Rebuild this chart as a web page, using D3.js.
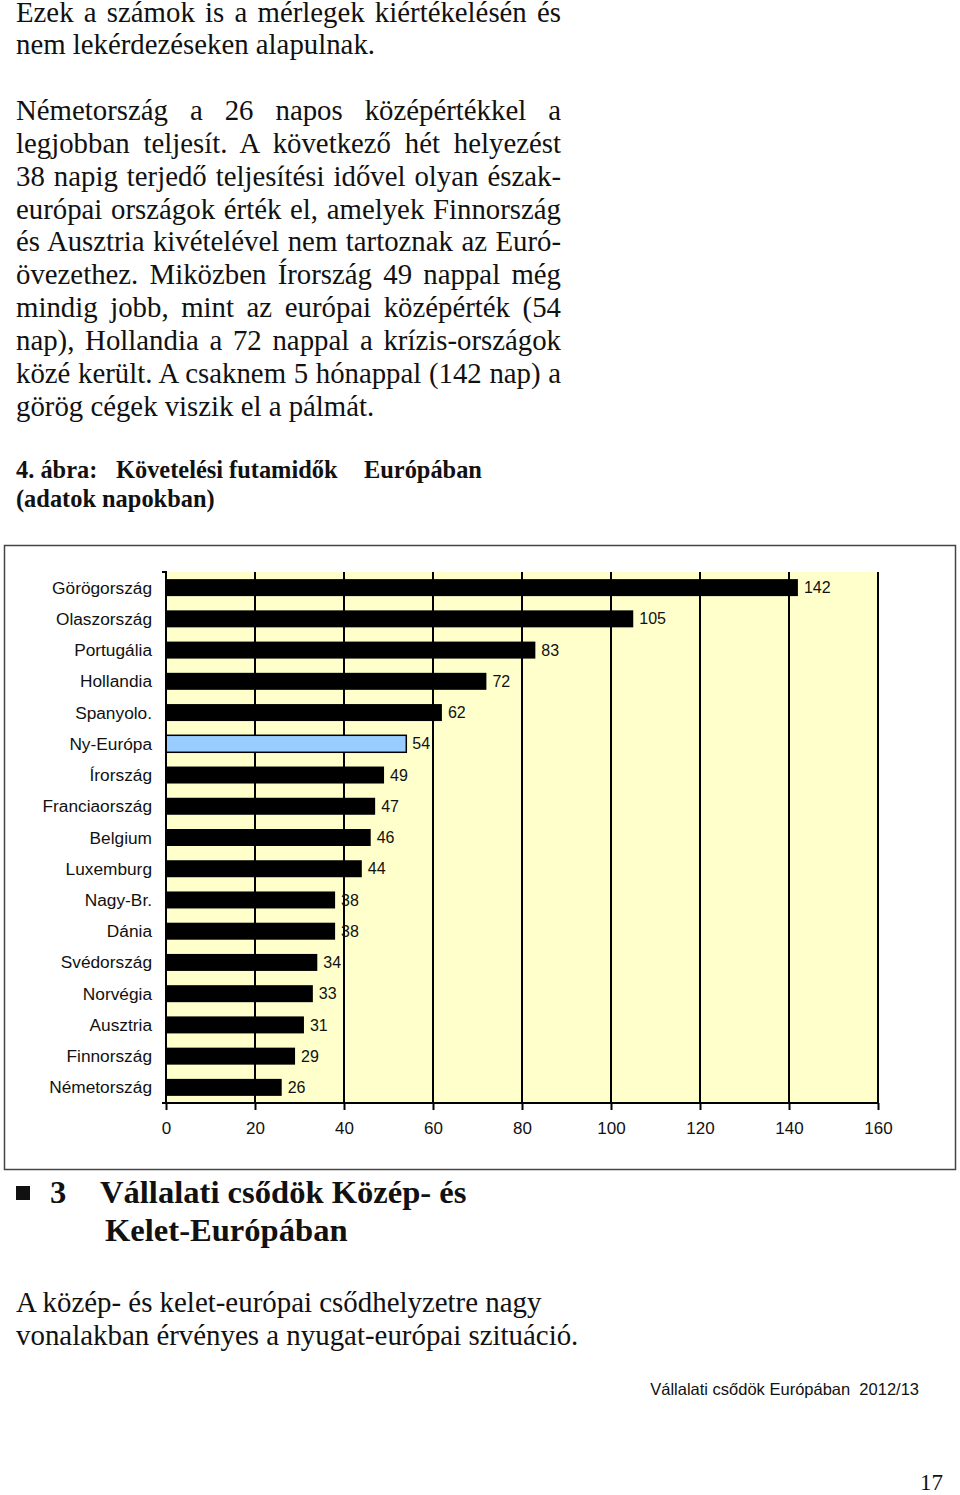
<!DOCTYPE html>
<html>
<head>
<meta charset="utf-8">
<script src="https://cdn.jsdelivr.net/npm/d3@7"></script>
<style>
  html, body { margin: 0; padding: 0; background: #fff; }
  body { width: 960px; height: 1495px; position: relative; overflow: hidden; }
  svg { position: absolute; left: 0; top: 0; }
</style>
</head>
<body>
<svg id="chart" width="960" height="1495"></svg>
<script>
// ---- data ----
const categories = ["Görögország","Olaszország","Portugália","Hollandia","Spanyolo.","Ny-Európa","Írország",
  "Franciaország","Belgium","Luxemburg","Nagy-Br.","Dánia","Svédország","Norvégia","Ausztria","Finnország","Németország"];
const values = [142,105,83,72,62,54,49,47,46,44,38,38,34,33,31,29,26];
const highlight = ["Ny-Európa"];
const xTicks = [0,20,40,60,80,100,120,140,160];

const proseLines = [
  ["Ezek a számok is a mérlegek kiértékelésén és", true],
  ["nem lekérdezéseken alapulnak.", false],
  ["", false],
  ["Németország a 26 napos középértékkel a", true],
  ["legjobban teljesít. A következő hét helyezést", true],
  ["38 napig terjedő teljesítési idővel olyan észak-", true],
  ["európai országok érték el, amelyek Finnország", true],
  ["és Ausztria kivételével nem tartoznak az Euró-", true],
  ["övezethez. Miközben Írország 49 nappal még", true],
  ["mindig jobb, mint az európai középérték (54", true],
  ["nap), Hollandia a 72 nappal a krízis-országok", true],
  ["közé került. A csaknem 5 hónappal (142 nap) a", true],
  ["görög cégek viszik el a pálmát.", false]
];

const svg = d3.select("#chart");
const serif = "'Liberation Serif', 'Times New Roman', serif";
const sans = "'Liberation Sans', Arial, sans-serif";

// ---- prose (justified via word-spacing) ----
const pg = svg.append("g").attr("font-family", serif).attr("font-size", 28.8).attr("fill", "#111");
proseLines.forEach((l, i) => {
  if (!l[0]) return;
  const tx = pg.append("text").attr("x", 16).attr("y", 21.5 + i * 32.85).text(l[0]);
  if (l[1]) {
    const w = tx.node().getComputedTextLength();
    const spaces = (l[0].match(/ /g) || []).length;
    if (spaces > 0) tx.style("word-spacing", ((545 - w) / spaces) + "px");
  }
});

// figure title
const t = svg.append("g").attr("font-family", serif).attr("font-weight", "bold").attr("font-size", 24.4).attr("fill", "#111");
t.append("text").attr("x", 16).attr("y", 478).text("4. ábra:");
t.append("text").attr("x", 116).attr("y", 478).text("Követelési futamidők");
t.append("text").attr("x", 364).attr("y", 478).text("Európában");
t.append("text").attr("x", 16).attr("y", 507).text("(adatok napokban)");

// frame
svg.append("rect").attr("x", 4.5).attr("y", 545.5).attr("width", 951).attr("height", 624)
  .attr("fill", "#fff").attr("stroke", "#444").attr("stroke-width", 1.5);

// scales
const x = d3.scaleLinear().domain([0, 160]).range([166, 878]);
const y = d3.scaleBand().domain(categories).range([572, 1103]).paddingInner(0.456).paddingOuter(0.228);

// plot background
svg.append("rect").attr("x", x(0)).attr("y", 572).attr("width", x(160) - x(0)).attr("height", 1103 - 572).attr("fill", "#FFFFCC");

// grid lines
svg.append("g").selectAll("line").data(xTicks.filter(d => d > 0)).join("line")
  .attr("x1", d => x(d)).attr("x2", d => x(d)).attr("y1", 572).attr("y2", 1103)
  .attr("stroke", "#000").attr("stroke-width", 2);

// bars
svg.append("g").selectAll("rect").data(categories).join("rect")
  .attr("x", x(0)).attr("y", d => y(d)).attr("width", (d, i) => x(values[i]) - x(0)).attr("height", y.bandwidth())
  .attr("fill", d => highlight.includes(d) ? "#99CCFF" : "#000")
  .attr("stroke", "#000").attr("stroke-width", d => highlight.includes(d) ? 1.5 : 0);

// value labels
svg.append("g").attr("font-family", sans).attr("font-size", 16).attr("fill", "#111")
  .selectAll("text").data(categories).join("text")
  .attr("x", (d, i) => x(values[i]) + 6).attr("y", d => y(d) + y.bandwidth() / 2).attr("dy", "0.35em")
  .text((d, i) => values[i]);

// category labels
svg.append("g").attr("font-family", sans).attr("font-size", 17.3).attr("fill", "#111").attr("text-anchor", "end")
  .selectAll("text").data(categories).join("text")
  .attr("x", 152).attr("y", d => y(d) + y.bandwidth() / 2).attr("dy", "0.35em").text(d => d);

// y axis line
svg.append("path").attr("d", `M162,572H166V1103`).attr("fill", "none").attr("stroke", "#000").attr("stroke-width", 2);

// x axis
const xAxis = d3.axisBottom(x).tickValues(xTicks).tickSize(7).tickPadding(12).tickSizeOuter(0);
const ax = svg.append("g").attr("transform", "translate(0,1103)").call(xAxis);
ax.select(".domain").attr("d", "M162,0H878").attr("stroke-width", 2);
ax.selectAll(".tick line").attr("stroke-width", 2);
ax.selectAll(".tick text").attr("font-family", sans).attr("font-size", 17).attr("fill", "#111");

// section heading
const h = svg.append("g").attr("font-family", serif).attr("font-weight", "bold").attr("font-size", 32.6).attr("fill", "#111");
h.append("rect").attr("x", 16).attr("y", 1186).attr("width", 14).attr("height", 14).attr("fill", "#111");
h.append("text").attr("x", 50).attr("y", 1203).text("3");
h.append("text").attr("x", 100).attr("y", 1203).text("Vállalati csődök Közép- és");
h.append("text").attr("x", 105).attr("y", 1241).text("Kelet-Európában");

// paragraph
const p = svg.append("g").attr("font-family", serif).attr("font-size", 28.9).attr("fill", "#111");
p.append("text").attr("x", 16).attr("y", 1312).text("A közép- és kelet-európai csődhelyzetre nagy");
p.append("text").attr("x", 16).attr("y", 1345).text("vonalakban érvényes a nyugat-európai szituáció.");

// footer
svg.append("text").attr("x", 919).attr("y", 1395).attr("text-anchor", "end").attr("font-family", sans)
  .attr("font-size", 16.5).attr("fill", "#111").attr("xml:space", "preserve").text("Vállalati csődök Európában  2012/13");
svg.append("text").attr("x", 943).attr("y", 1490).attr("text-anchor", "end").attr("font-family", serif)
  .attr("font-size", 23).attr("fill", "#111").text("17");
</script>
</body>
</html>
